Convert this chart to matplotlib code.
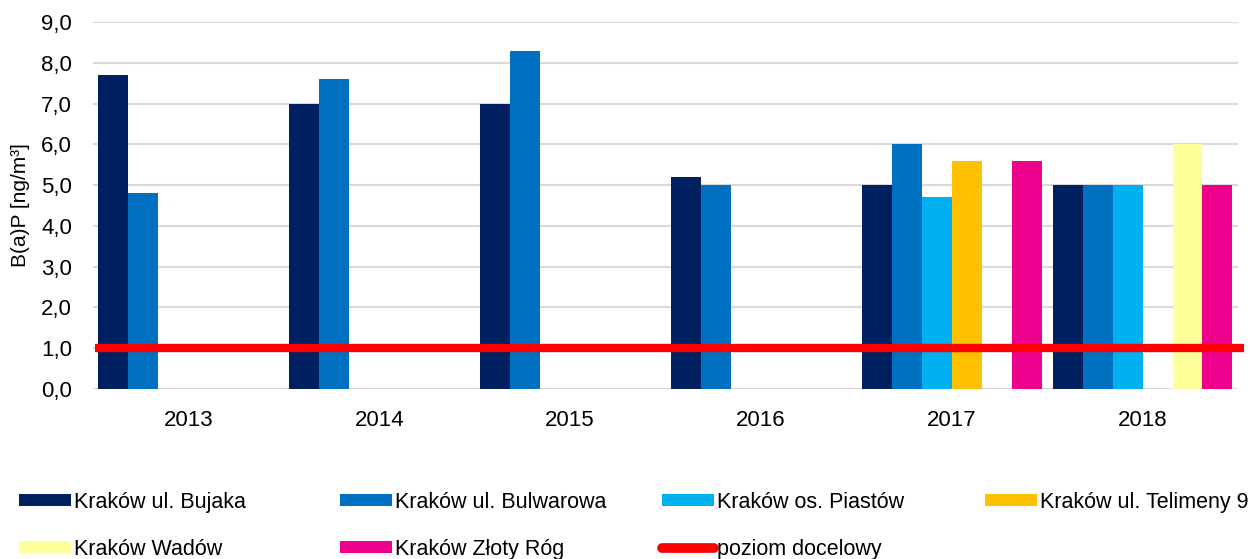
import matplotlib.pyplot as plt
import numpy as np
from matplotlib.patches import Patch
from matplotlib.lines import Line2D
from matplotlib.ticker import FuncFormatter

plt.rcParams['font.family'] = ['Liberation Sans', 'DejaVu Sans']

years = ['2013', '2014', '2015', '2016', '2017', '2018']
series_names = ['Kraków ul. Bujaka', 'Kraków ul. Bulwarowa', 'Kraków os. Piastów',
                'Kraków ul. Telimeny 9', 'Kraków Wadów', 'Kraków Złoty Róg']
bujaka = [7.7, 7.0, 7.0, 5.2, 5.0, 5.0]
bulwarowa = [4.8, 7.6, 8.3, 5.0, 6.0, 5.0]
piastow = [np.nan, np.nan, np.nan, np.nan, 4.7, 5.0]
telimeny = [np.nan, np.nan, np.nan, np.nan, 5.6, np.nan]
wadow = [np.nan, np.nan, np.nan, np.nan, np.nan, 6.0]
zloty_rog = [np.nan, np.nan, np.nan, np.nan, 5.6, 5.0]
target_level = 1.0

colors = ['#002060', '#0070C0', '#00B0F0', '#FFC000', '#FFFF99', '#EC008C']
all_series = [bujaka, bulwarowa, piastow, telimeny, wadow, zloty_rog]

fig = plt.figure(figsize=(12.51, 5.59), dpi=100)
ax = fig.add_axes([0.0743, 0.3041, 0.9153, 0.6565])

x = np.arange(len(years))
width = 0.157
for i, (vals, col) in enumerate(zip(all_series, colors)):
    ax.bar(x + (i - 2.5) * width, vals, width, color=col, zorder=2)

ax.plot([-0.49, len(years) - 0.47], [target_level, target_level], color='#FF0000',
        linewidth=6, zorder=3, clip_on=False, solid_capstyle='butt')

ax.set_xlim(-0.5, len(years) - 0.5)
ax.set_ylim(0, 9)
ax.set_yticks(np.arange(0, 9.5, 1.0))
ax.yaxis.set_major_formatter(FuncFormatter(lambda v, p: ('%.1f' % v).replace('.', ',')))
ax.set_xticks(x)
ax.set_xticklabels(years)
ax.tick_params(axis='both', length=0, labelsize=16)
ax.tick_params(axis='x', pad=15)
ax.tick_params(axis='y', pad=15)
ax.grid(axis='y', color='#D9D9D9', linewidth=1.5, zorder=0)
ax.set_axisbelow(True)
for s in ax.spines.values():
    s.set_visible(False)
ax.set_ylabel('B(a)P [ng/m³]', fontsize=15, labelpad=8)

handles = [Patch(facecolor=c, edgecolor='none') for c in colors]
line_handle = Line2D([], [], color='#FF0000', linewidth=7, solid_capstyle='round')
columns = [
    ([handles[0], handles[4]], [series_names[0], series_names[4]], 0.0152),
    ([handles[1], handles[5]], [series_names[1], series_names[5]], 0.2718),
    ([handles[2], line_handle], [series_names[2], 'poziom docelowy'], 0.5292),
    ([handles[3]], [series_names[3]], 0.7874),
]
for hs, labels, xpos in columns:
    fig.legend(hs, labels, loc='upper left', bbox_to_anchor=(xpos, 0.120),
               frameon=False, fontsize=15.5, handlelength=2.4, handleheight=0.49,
               handletextpad=0.15, labelspacing=1.2, borderpad=0, borderaxespad=0)

fig.savefig('out.png', dpi=100)
